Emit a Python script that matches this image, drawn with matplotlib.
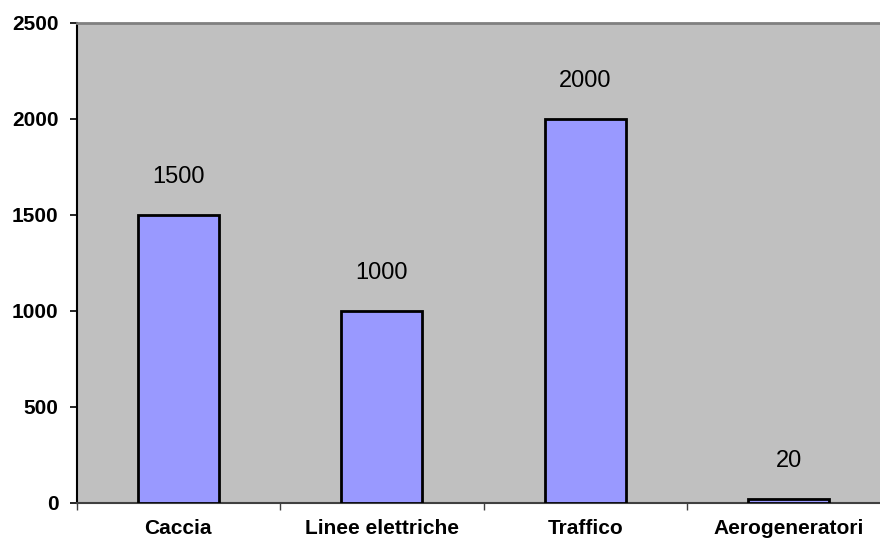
import matplotlib.pyplot as plt

categorie = ['Caccia', 'Linee elettriche', 'Traffico', 'Aerogeneratori']
valori = [1500, 1000, 2000, 20]
yticks = [0, 500, 1000, 1500, 2000, 2500]

plt.rcParams['font.family'] = ['Liberation Sans', 'DejaVu Sans']

fig = plt.figure(figsize=(8.8, 5.38), dpi=100)
ax = fig.add_axes([76.5 / 880, 35.3 / 538, 814 / 880, 479.7 / 538])
ax.set_facecolor('#C0C0C0')

x = range(len(categorie))
ax.bar(x, valori, width=0.4, color='#9999FF', edgecolor='black', linewidth=2, zorder=3)

# etichette sopra le barre
for i, v in enumerate(valori):
    ax.annotate(str(v), (i, v), xytext=(0, 23), textcoords='offset points',
                ha='center', va='baseline', fontsize=17)

ax.set_xlim(-0.5, 3.5)
ax.set_ylim(0, 2500)

ax.set_yticks(yticks)
ax.set_yticklabels([str(t) for t in yticks], fontsize=15, fontweight='bold')
ax.tick_params(axis='y', direction='out', length=5, width=1.2, pad=8)

# tacche tra le categorie, nomi al centro
ax.set_xticks([-0.5, 0.5, 1.5, 2.5])
ax.set_xticklabels([])
ax.set_xticks(list(x), minor=True)
ax.set_xticklabels(categorie, minor=True, fontsize=15, fontweight='bold')
ax.tick_params(axis='x', which='major', direction='out', length=5, width=1, color='#404040')
ax.tick_params(axis='x', which='minor', length=0, pad=11.5)

ax.spines['right'].set_visible(False)
ax.spines['top'].set_color('#808080')
ax.spines['top'].set_linewidth(2)
ax.spines['left'].set_color('black')
ax.spines['left'].set_linewidth(1.5)
ax.spines['bottom'].set_color('#404040')
ax.spines['bottom'].set_linewidth(1.5)

fig.savefig('out.png', dpi=100)
